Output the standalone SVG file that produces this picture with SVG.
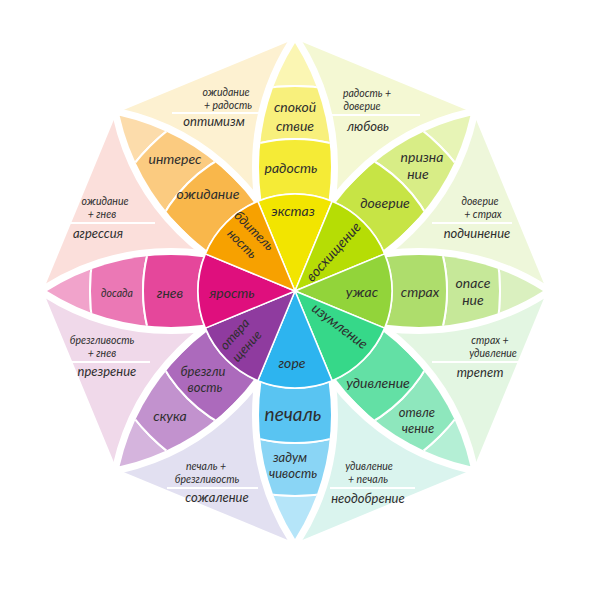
<svg xmlns="http://www.w3.org/2000/svg" xmlns:xlink="http://www.w3.org/1999/xlink" width="600" height="589" viewBox="0 0 600 589">
<style>
text{font-family:Lato,"Open Sans","DejaVu Sans",sans-serif;font-style:italic;fill:#2e2e2e;text-anchor:middle}
.p{font-size:14px}
.q{font-size:13px}
.big{font-size:19px}
.s{font-size:10.5px}
.n{font-size:13px}
.sep{stroke:#fff;stroke-width:2;fill:none}
.ring{stroke:#fff;stroke-width:2}
.halo{fill:#fff;stroke:#fff;stroke-width:14;stroke-linejoin:round}
.wedge{stroke:#fff;stroke-width:1.5}
</style>
<defs>
<path id="lens" d="M0,0 A231.6,231.6 0 0 1 248,0 A231.6,231.6 0 0 1 0,0 Z"/>
<clipPath id="lensClip"><use xlink:href="#lens"/></clipPath>
<path id="ring4" fill-rule="evenodd" d="M270,0 A270,270 0 1 1 -270,0 A270,270 0 1 1 270,0 Z M205,0 A205,205 0 1 0 -205,0 A205,205 0 1 0 205,0 Z"/>
<path id="ring3" fill-rule="evenodd" d="M205,0 A205,205 0 1 1 -205,0 A205,205 0 1 1 205,0 Z M152,0 A152,152 0 1 0 -152,0 A152,152 0 1 0 152,0 Z"/>
<path id="ring2" fill-rule="evenodd" d="M152,0 A152,152 0 1 1 -152,0 A152,152 0 1 1 152,0 Z M97,0 A97,97 0 1 0 -97,0 A97,97 0 1 0 97,0 Z"/>
<path id="wedge" d="M0,0 L89.62,-37.12 A97,97 0 0 1 89.62,37.12 Z"/>
</defs>

<g id="background">
<polygon points="295,291 116.8,112.8 295,39" fill="#fdf1d1"/>
<polygon points="295,291 295,39 473.2,112.8" fill="#f4f8d3"/>
<polygon points="295,291 473.2,112.8 547,291" fill="#eef7da"/>
<polygon points="295,291 547,291 473.2,469.2" fill="#e3f6e2"/>
<polygon points="295,291 473.2,469.2 295,543" fill="#daf4ee"/>
<polygon points="295,291 295,543 116.8,469.2" fill="#e2e0f1"/>
<polygon points="295,291 116.8,469.2 43,291" fill="#f0d9ea"/>
<polygon points="295,291 43,291 116.8,112.8" fill="#fbdfdb"/>
<line class="sep" x1="172" y1="113" x2="262" y2="113"/>
<line class="sep" x1="330" y1="115" x2="420" y2="115"/>
<line class="sep" x1="432" y1="223" x2="512" y2="223"/>
<line class="sep" x1="432" y1="362" x2="520" y2="362"/>
<line class="sep" x1="330" y1="488" x2="415" y2="488"/>
<line class="sep" x1="167" y1="488" x2="258" y2="488"/>
<line class="sep" x1="62" y1="362" x2="150" y2="362"/>
<line class="sep" x1="62" y1="223" x2="155" y2="223"/>
<text class="s" x="226" y="96">ожидание</text>
<text class="s" x="228" y="108.5">+ радость</text>
<text class="n" x="214" y="126">оптимизм</text>
<text class="s" x="367" y="97">радость +</text>
<text class="s" x="362" y="109.5">доверие</text>
<text class="n" x="368" y="131">любовь</text>
<text class="s" x="480" y="205">доверие</text>
<text class="s" x="483" y="217.5">+ страх</text>
<text class="n" x="477" y="238">подчинение</text>
<text class="s" x="490" y="344">страх +</text>
<text class="s" x="493" y="356.5">удивление</text>
<text class="n" x="480" y="377">трепет</text>
<text class="s" x="369" y="470">удивление</text>
<text class="s" x="368" y="482.5">+ печаль</text>
<text class="n" x="368" y="503">неодобрение</text>
<text class="s" x="206" y="470">печаль +</text>
<text class="s" x="207" y="482.5">брезгливость</text>
<text class="n" x="217" y="502">сожаление</text>
<text class="s" x="102" y="344">брезгливость</text>
<text class="s" x="102" y="356.5">+ гнев</text>
<text class="n" x="107" y="376">презрение</text>
<text class="s" x="105" y="205">ожидание</text>
<text class="s" x="102" y="217.5">+ гнев</text>
<text class="n" x="98" y="238">агрессия</text>
</g>

<g id="petal-outlines">
<use xlink:href="#lens" class="halo" transform="translate(295,291) rotate(-90)"/>
<use xlink:href="#lens" class="halo" transform="translate(295,291) rotate(-45)"/>
<use xlink:href="#lens" class="halo" transform="translate(295,291) rotate(0)"/>
<use xlink:href="#lens" class="halo" transform="translate(295,291) rotate(45)"/>
<use xlink:href="#lens" class="halo" transform="translate(295,291) rotate(90)"/>
<use xlink:href="#lens" class="halo" transform="translate(295,291) rotate(135)"/>
<use xlink:href="#lens" class="halo" transform="translate(295,291) rotate(180)"/>
<use xlink:href="#lens" class="halo" transform="translate(295,291) rotate(225)"/>
</g>

<g id="petal-joy">
<g transform="translate(295,291) rotate(-90)">
<g clip-path="url(#lensClip)">
<use xlink:href="#ring4" class="ring" fill="#fbf6b3"/>
<use xlink:href="#ring3" class="ring" fill="#f8f07c"/>
<use xlink:href="#ring2" class="ring" fill="#f5eb36"/>
</g>
<use xlink:href="#wedge" class="wedge" fill="#f2e500"/>
</g>
<text class="p" x="293" y="216">экстаз</text>
<text class="p" x="291" y="173">радость</text>
<text class="p" x="295" y="112">спокой</text>
<text class="p" x="295" y="131">ствие</text>
</g>

<g id="petal-trust">
<g transform="translate(295,291) rotate(-45)">
<g clip-path="url(#lensClip)">
<use xlink:href="#ring4" class="ring" fill="#e7f4b6"/>
<use xlink:href="#ring3" class="ring" fill="#d8ed86"/>
<use xlink:href="#ring2" class="ring" fill="#c7e445"/>
</g>
<use xlink:href="#wedge" class="wedge" fill="#b6dd05"/>
</g>
<text class="p" transform="translate(337,255) rotate(-48)">восхищение</text>
<text class="p" x="385" y="208">доверие</text>
<text class="p" x="422" y="162">призна</text>
<text class="p" x="418" y="179">ние</text>
</g>

<g id="petal-fear">
<g transform="translate(295,291) rotate(0)">
<g clip-path="url(#lensClip)">
<use xlink:href="#ring4" class="ring" fill="#daf0bf"/>
<use xlink:href="#ring3" class="ring" fill="#c6e899"/>
<use xlink:href="#ring2" class="ring" fill="#aedd6c"/>
</g>
<use xlink:href="#wedge" class="wedge" fill="#92d43a"/>
</g>
<text class="p" x="362" y="297">ужас</text>
<text class="p" x="420" y="297">страх</text>
<text class="p" x="473" y="288">опасе</text>
<text class="p" x="473" y="305">ние</text>
</g>

<g id="petal-surprise">
<g transform="translate(295,291) rotate(45)">
<g clip-path="url(#lensClip)">
<use xlink:href="#ring4" class="ring" fill="#b4efd5"/>
<use xlink:href="#ring3" class="ring" fill="#8ee7bd"/>
<use xlink:href="#ring2" class="ring" fill="#63e0a5"/>
</g>
<use xlink:href="#wedge" class="wedge" fill="#36d889"/>
</g>
<text class="p" transform="translate(337,330) rotate(37)">изумление</text>
<text class="p" x="378" y="388">удивление</text>
<text class="q" x="417" y="417">отвле</text>
<text class="q" x="418" y="433">чение</text>
</g>

<g id="petal-sadness">
<g transform="translate(295,291) rotate(90)">
<g clip-path="url(#lensClip)">
<use xlink:href="#ring4" class="ring" fill="#b5e5f9"/>
<use xlink:href="#ring3" class="ring" fill="#8ad5f5"/>
<use xlink:href="#ring2" class="ring" fill="#59c4f2"/>
</g>
<use xlink:href="#wedge" class="wedge" fill="#2db4ef"/>
</g>
<text class="p" x="292" y="368">горе</text>
<text class="big" x="293" y="421">печаль</text>
<text class="q" x="290" y="462">задум</text>
<text class="q" x="293" y="478">чивость</text>
</g>

<g id="petal-disgust">
<g transform="translate(295,291) rotate(135)">
<g clip-path="url(#lensClip)">
<use xlink:href="#ring4" class="ring" fill="#d5b4dd"/>
<use xlink:href="#ring3" class="ring" fill="#c292ce"/>
<use xlink:href="#ring2" class="ring" fill="#ac6abc"/>
</g>
<use xlink:href="#wedge" class="wedge" fill="#8f3b9f"/>
</g>
<text class="q" transform="translate(238,337) rotate(-48)">отвра</text>
<text class="q" transform="translate(250,349) rotate(-48)">щение</text>
<text class="q" x="203" y="376">брезгли</text>
<text class="q" x="205" y="392">вость</text>
<text class="p" x="170" y="421">скука</text>
</g>

<g id="petal-anger">
<g transform="translate(295,291) rotate(180)">
<g clip-path="url(#lensClip)">
<use xlink:href="#ring4" class="ring" fill="#f1a3cb"/>
<use xlink:href="#ring3" class="ring" fill="#eb78b5"/>
<use xlink:href="#ring2" class="ring" fill="#e5479b"/>
</g>
<use xlink:href="#wedge" class="wedge" fill="#df0f7d"/>
</g>
<text class="p" x="232" y="298">ярость</text>
<text class="p" x="170" y="298">гнев</text>
<text class="s" x="117" y="297">досада</text>
</g>

<g id="petal-anticipation">
<g transform="translate(295,291) rotate(225)">
<g clip-path="url(#lensClip)">
<use xlink:href="#ring4" class="ring" fill="#fcdcab"/>
<use xlink:href="#ring3" class="ring" fill="#fbcb80"/>
<use xlink:href="#ring2" class="ring" fill="#f9b74b"/>
</g>
<use xlink:href="#wedge" class="wedge" fill="#f7a100"/>
</g>
<text class="q" transform="translate(251,234) rotate(45)">бдитель</text>
<text class="q" transform="translate(239,247) rotate(45)">ность</text>
<text class="p" x="208" y="199">ожидание</text>
<text class="p" x="175" y="164">интерес</text>
</g>

<g id="connectors"></g>
</svg>
